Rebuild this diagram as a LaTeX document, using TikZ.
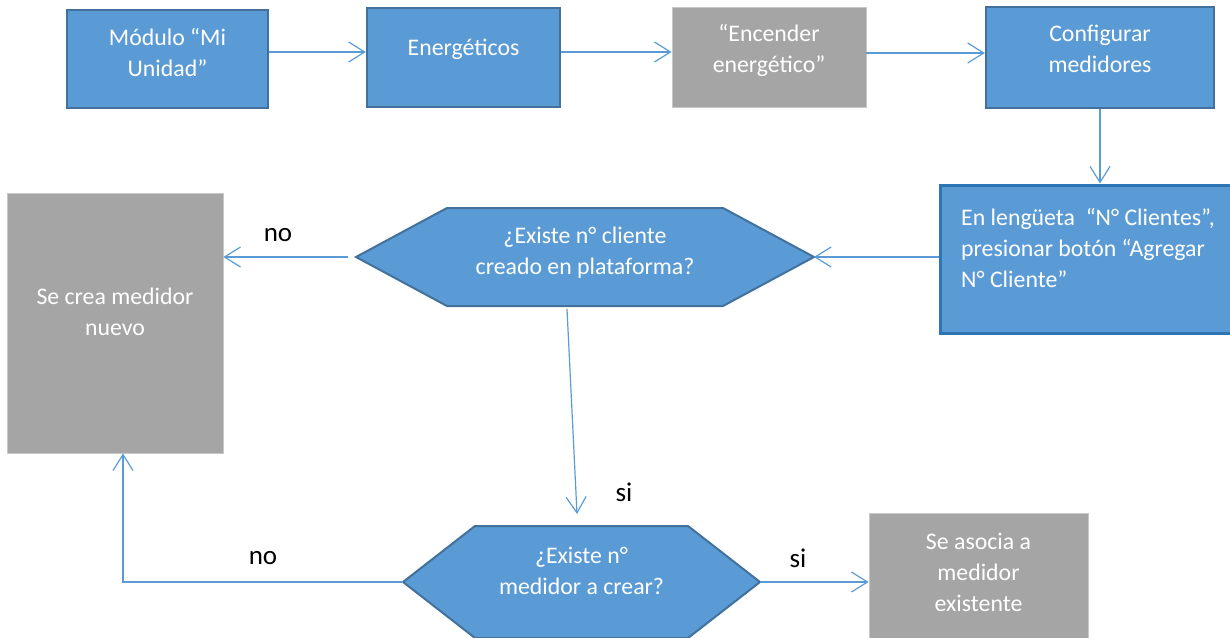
\documentclass[tikz,border=0pt]{standalone}
\usepackage{fontspec}
\setmainfont{Carlito}
\usetikzlibrary{arrows.meta, positioning, backgrounds}
\definecolor{boxblue}{HTML}{5B9BD5}
\definecolor{edgeblue}{HTML}{41719C}
\definecolor{edgedeep}{HTML}{2E75B6}
\definecolor{boxgray}{HTML}{A5A5A5}
\definecolor{edgegray}{HTML}{C8C8C8}
\newcommand{\boxtext}[3][c]{\raisebox{#2}[\height][\depth]{\begin{tabular}{@{}#1@{}}#3\end{tabular}}}

\begin{document}
\begin{tikzpicture}[
	x=0.5pt, y=-0.5pt,
	process/.style={rectangle, draw=edgeblue, fill=boxblue, line width=1.2pt,
		text=white, font=\fontsize{11.9}{15.5}\selectfont, inner sep=0pt},
	outcome/.style={rectangle, draw=edgegray, fill=boxgray, line width=0.4pt,
		text=white, font=\fontsize{11.9}{15.5}\selectfont, inner sep=0pt},
	decision/.style={rectangle, inner sep=0pt, outer sep=0pt,
		text=white, font=\fontsize{11.9}{15.5}\selectfont},
	decisionedge/.style={draw=edgeblue, fill=boxblue, line width=1pt},
	flow/.style={-{Straight Barb[length=8pt, width=10pt]}, draw=boxblue, line width=0.6pt},
	answer/.style={font=\fontsize{13.5}{16}\selectfont, text=black, inner sep=0pt}
	]
	\useasboundingbox (0,0) rectangle (1230,637);
	
	% Row 1: steps in the platform
	\node[process, minimum width=100.5pt, minimum height=49pt] (modulo) at (167.5,59)
		{\boxtext{2.3pt}{Módulo “Mi\\Unidad”}};
	\node[process, minimum width=96.5pt, minimum height=49.5pt] (energ) at (463.5,57.5)
		{\boxtext{4.3pt}{Energéticos}};
	\node[outcome, minimum width=97pt, minimum height=50pt] (encender) at (769,57)
		{\boxtext{3pt}{“Encender\\energético”}};
	\node[process, minimum width=114pt, minimum height=50.5pt] (config) at (1100,57.5)
		{\boxtext{3.2pt}{Configurar\\medidores}};
	
	% Row 2: client number
	\node[process, draw=edgedeep, line width=1.5pt, minimum width=148pt, minimum height=74pt] (lengueta) at (1088,259)
		{\boxtext[l]{4.6pt}{En lengüeta\ \ “N° Clientes”,\\presionar botón “Agregar\\N° Cliente”}};
	\node[decision, minimum width=229pt, minimum height=49pt] (qcliente) at (585,257)
		{\boxtext{2.3pt}{¿Existe n° cliente\\creado en plataforma?}};
	\node[outcome, minimum width=108pt, minimum height=130pt] (nuevo) at (115,323)
		{\boxtext{4.8pt}{Se crea medidor\\nuevo}};
	
	% Row 3: meter number
	\node[decision, minimum width=178.5pt, minimum height=56pt] (qmedidor) at (581.5,582)
		{\boxtext{4.8pt}{¿Existe n°\\medidor a crear?}};
	\node[outcome, minimum width=109.5pt, minimum height=63.5pt] (existente) at (978.5,576.5)
		{\boxtext{1.3pt}{Se asocia a\\medidor\\existente}};
	
	% Hexagons behind the questions
	\begin{scope}[on background layer]
		\foreach \q/\c in {qcliente/45.5pt, qmedidor/36pt}
			\filldraw[decisionedge] (\q.west) -- ([xshift=\c]\q.north west)
				-- ([xshift=-\c]\q.north east) -- (\q.east)
				-- ([xshift=-\c]\q.south east) -- ([xshift=\c]\q.south west) -- cycle;
	\end{scope}
	
	% Answers
	\node[answer] (no1) at (278,235) {no};
	\node[answer] (si1) at (624,492) {si};
	\node[answer] (si2) at (798,558) {si};
	\node[answer] (no2) at (263,558) {no};
	
	% Arrows along row 1
	\draw[flow] ([yshift=3.5pt]modulo.east) -- ([yshift=3.5pt]modulo.east -| energ.west);
	\draw[flow] ([yshift=2.75pt]energ.east) -- ([yshift=2.75pt]energ.east -| encender.west);
	\draw[flow] ([yshift=2pt]encender.east) -- ([yshift=2pt]encender.east -| config.west);
	\draw[flow] (config.south) -- (config.south |- lengueta.north);
	
	% Arrows through the questions
	\draw[flow] (lengueta.west |- qcliente.east) -- (qcliente.east);
	\draw[flow] ([xshift=-4pt]qcliente.west) -- (qcliente.west -| nuevo.east);
	\draw[flow] ([xshift=-9pt, yshift=-1.5pt]qcliente.south) -- ([xshift=-2.25pt, yshift=6pt]qmedidor.north);
	\draw[flow] (qmedidor.east) -- (qmedidor.east -| existente.west);
	\draw[flow] (qmedidor.west) -| ([xshift=4pt]nuevo.south);
	
\end{tikzpicture}
\end{document}
